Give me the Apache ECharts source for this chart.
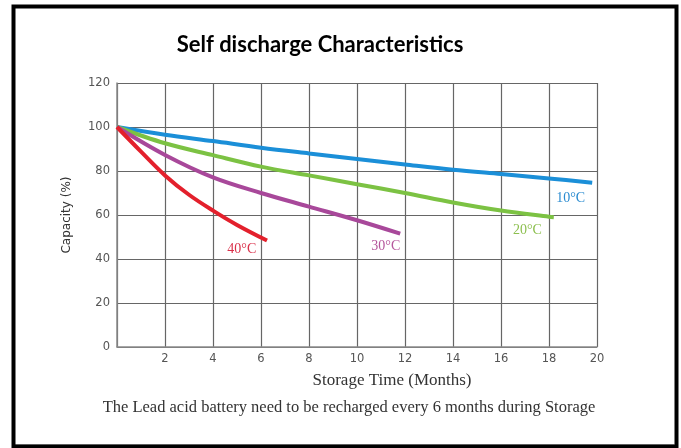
<!DOCTYPE html>
<html><head><meta charset="utf-8">
<script src="https://cdn.jsdelivr.net/npm/echarts@6/dist/echarts.min.js"></script>
<style>html,body{margin:0;padding:0;background:#fff}#c{width:681px;height:448px}</style>
</head><body><div id="c"></div>
<script>
const xTicks = [0,2,4,6,8,10,12,14,16,18,20];
const yTicks = [0,20,40,60,80,100,120];
const s10 = [[0,100],[2,96.5],[4,93.6],[6,90.6],[8,88],[10,85.5],[12,83],[14,80.6],[16,78.6],[18,76.6],[19.8,74.7]];
const s20 = [[0,100],[2,92.6],[4,87.2],[6,82],[8,78],[10,74],[12,70],[14,65.7],[16,62],[18,59.2],[18.2,59]];
const s30 = [[0,100],[2,87.3],[4,77.1],[6,70],[8,63.8],[10,57.6],[11.8,51.5]];
const s40 = [[0,100],[1,88.8],[2,78],[3,69.2],[4,62],[5,55.5],[6.25,48.4]];
const names = ['10°C','20°C','30°C','40°C'];
const labelPos = [[18.9,67.7],[17.1,53.2],[11.2,45.9],[5.2,44.5]];
const colors = ['#1b8fd8','#7cc243','#a8489a','#e3202c'];
const labelColors = ['#2a8bd0','#8cbf4e','#b5569c','#d9304a'];
const data = [s10,s20,s30,s40];

const chart = echarts.init(document.getElementById('c'));
chart.setOption({
  animation:false,
  grid:{left:117,right:84,top:83,bottom:101},
  xAxis:{type:'value',min:0,max:20,interval:2,
    axisLine:{lineStyle:{color:'#8a8a8a',width:1.5}},axisTick:{show:false},
    axisLabel:{color:'#555',fontFamily:'DejaVu Sans',fontSize:11.5,margin:6,
      formatter:v=>v===0?'':String(v)},
    splitLine:{lineStyle:{color:'#666',width:1.2}}},
  yAxis:{type:'value',min:0,max:120,interval:20,
    name:'Capacity (%)',nameLocation:'middle',nameGap:44,
    nameTextStyle:{color:'#333',fontFamily:'DejaVu Sans',fontSize:12},
    axisLine:{show:true,lineStyle:{color:'#8a8a8a',width:1.5}},axisTick:{show:false},
    axisLabel:{color:'#555',fontFamily:'DejaVu Sans',fontSize:11.5,margin:7},
    splitLine:{lineStyle:{color:'#666',width:1.2}}},
  series: data.map((d,i)=>({
    type:'line',name:names[i],data:d,smooth:0.35,symbol:'none',
    lineStyle:{color:colors[i],width:4},
    markPoint:{symbol:'circle',symbolSize:0,silent:true,
      data:[{coord:labelPos[i],label:{show:true,formatter:names[i],color:labelColors[i],
        fontFamily:'Liberation Serif',fontSize:14}}]}
  })),
  graphic:[
    {type:'rect',left:11,top:4,shape:{width:663,height:440},style:{fill:'none',stroke:'#000',lineWidth:4}},
    {type:'line',shape:{x1:12,y1:445.5,x2:674,y2:445.5},style:{stroke:'#000',lineWidth:1.5}},
    {type:'text',x:320,y:45,style:{text:'Self discharge Characteristics',fill:'#000',
      font:'bold 22px Lato',textAlign:'center',textVerticalAlign:'middle'}},
    {type:'text',x:392,y:381,style:{text:'Storage Time (Months)',fill:'#333',
      font:'17px "Liberation Serif"',textAlign:'center',textVerticalAlign:'middle'}},
    {type:'text',x:349,y:408,style:{text:'The Lead acid battery need to be recharged every 6 months during Storage',fill:'#333',
      font:'16.5px "Liberation Serif"',textAlign:'center',textVerticalAlign:'middle'}}
  ]
});
</script></body></html>
